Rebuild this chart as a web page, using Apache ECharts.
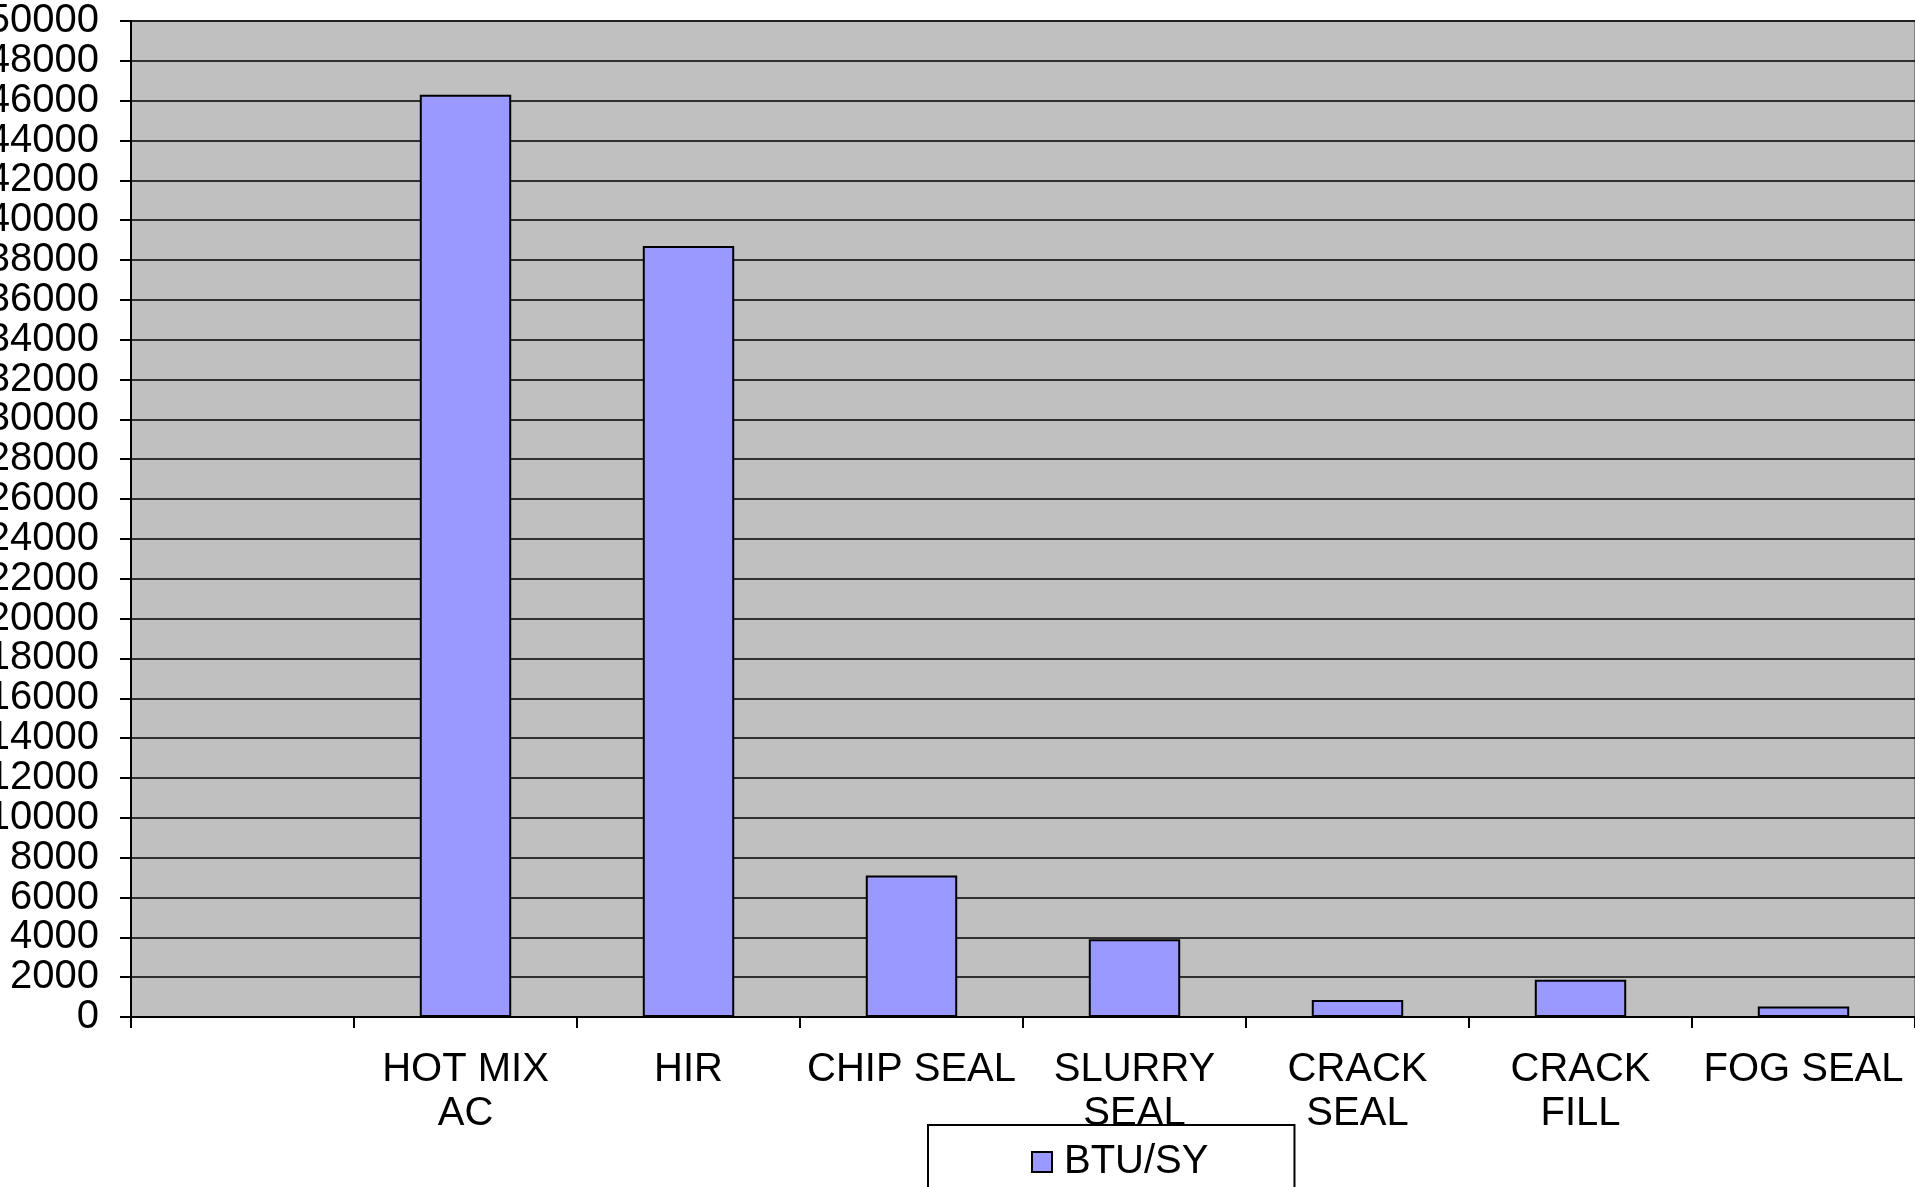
<!DOCTYPE html>
<html>
<head>
<meta charset="utf-8">
<style>
  html, body { margin: 0; padding: 0; background: #fff; }
  #chart { width: 1915px; height: 1187px; }
</style>
<script src="https://cdn.jsdelivr.net/npm/echarts@6/dist/echarts.min.js"></script>
</head>
<body>
<div id="chart"></div>
<script>
// Energy use per square yard by treatment type
const categories = ['', 'HOT MIX\nAC', 'HIR', 'CHIP SEAL', 'SLURRY\nSEAL', 'CRACK\nSEAL', 'CRACK\nFILL', 'FOG SEAL'];
const btuPerSY = [null, 46300, 38700, 7100, 3900, 850, 1870, 530];
const seriesName = 'BTU/SY';
const yMin = 0;
const yMax = 50000;
const yStep = 2000;

const FONT = '"Liberation Sans", Arial, sans-serif';

const chart = echarts.init(document.getElementById('chart'), null, { renderer: 'canvas' });
chart.setOption({
  animation: false,
  backgroundColor: '#ffffff',
  textStyle: { fontFamily: FONT, color: '#000' },
  grid: {
    left: 131, right: 0, top: 21, bottom: 170,
    containLabel: false,
    outerBoundsMode: 'none',
    show: true,
    backgroundColor: '#C0C0C0',
    borderColor: '#808080',
    borderWidth: 2
  },
  legend: {
    data: [seriesName],
    left: 928,
    top: 1125,
    padding: [17, 86, 11, 103],
    borderColor: '#000',
    borderWidth: 2,
    itemWidth: 20,
    itemHeight: 20,
    itemGap: 10,
    icon: 'rect',
    itemStyle: { color: '#9999FF', borderColor: '#000', borderWidth: 2 },
    textStyle: { fontFamily: FONT, fontSize: 40, color: '#000', padding: [0, 0, 0, 7] }
  },
  xAxis: {
    type: 'category',
    data: categories,
    boundaryGap: true,
    axisLine: { show: true, lineStyle: { color: '#000', width: 2 } },
    axisTick: { show: true, length: 11, lineStyle: { color: '#000', width: 2 } },
    axisLabel: {
      interval: 0,
      margin: 31,
      fontFamily: FONT,
      fontSize: 40,
      lineHeight: 44,
      color: '#000',
      align: 'center'
    },
    splitLine: { show: false }
  },
  yAxis: {
    type: 'value',
    min: yMin,
    max: yMax,
    interval: yStep,
    axisLine: { show: true, lineStyle: { color: '#000', width: 2 } },
    axisTick: { show: true, length: 11, lineStyle: { color: '#000', width: 2 } },
    axisLabel: {
      margin: 32,
      fontFamily: FONT,
      fontSize: 40,
      color: '#000',
      formatter: (v) => String(v)
    },
    splitLine: { show: true, lineStyle: { color: '#000', width: 1.6 } }
  },
  series: [{
    name: seriesName,
    type: 'bar',
    data: btuPerSY,
    barWidth: '41%',
    itemStyle: { color: '#9999FF', borderColor: '#000', borderWidth: 2 }
  }]
});
</script>
</body>
</html>
